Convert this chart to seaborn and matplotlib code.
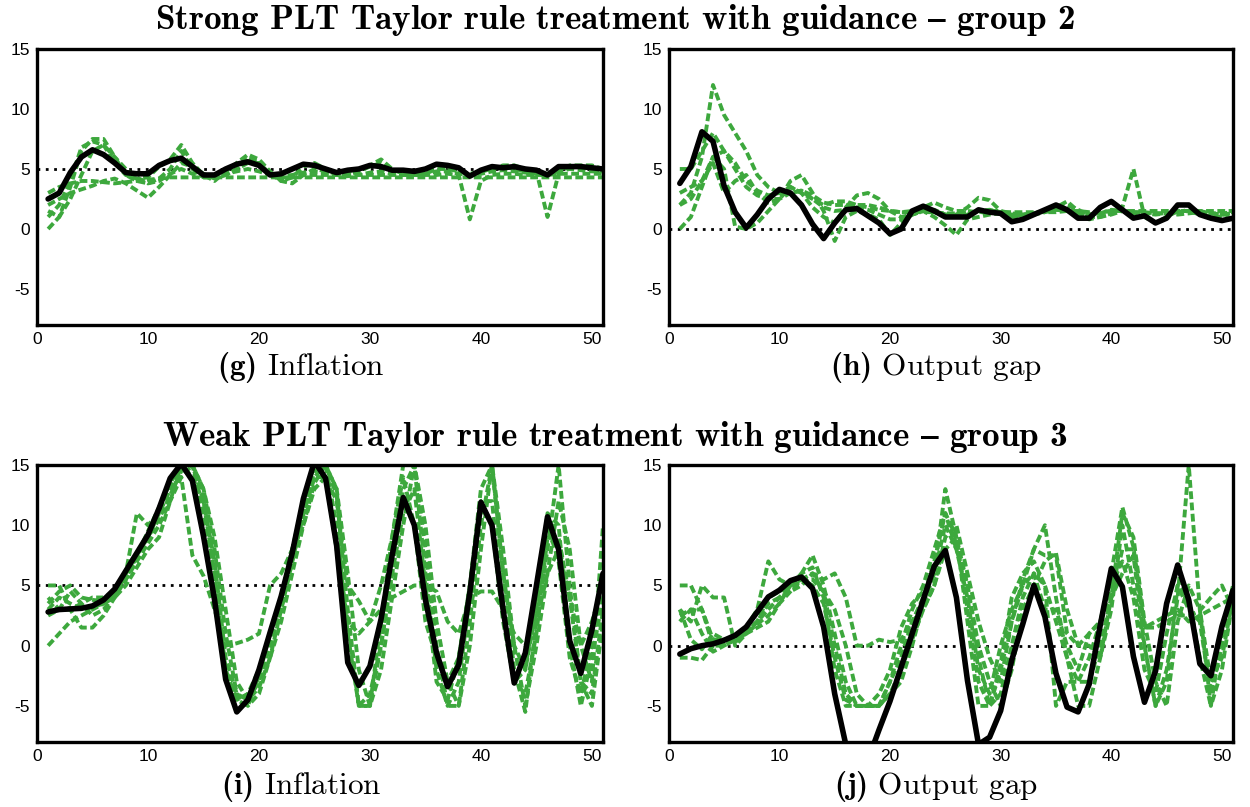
import numpy as np
import matplotlib
matplotlib.use('Agg')
import matplotlib.pyplot as plt
import seaborn as sns

sns.set_theme(style='white')
plt.rcParams['font.family'] = ['Liberation Sans', 'DejaVu Sans']
plt.rcParams['mathtext.fontset'] = 'custom'
plt.rcParams['mathtext.rm'] = 'cmr10'
plt.rcParams['mathtext.bf'] = 'cmb10'
plt.rcParams['axes.unicode_minus'] = False
plt.rcParams['text.color'] = 'black'
plt.rcParams['xtick.color'] = 'black'
plt.rcParams['ytick.color'] = 'black'

GREEN = '#3da83d'
periods = np.arange(1, 52)

# ===== Strong PLT, group 2: inflation (g) =====
g_mean = [2.5, 3.0, 4.7, 6.0, 6.6, 6.2, 5.5, 4.7, 4.6, 4.6,
          5.3, 5.7, 5.9, 5.2, 4.5, 4.5, 5.0, 5.4, 5.6, 5.3,
          4.5, 4.6, 5.0, 5.4, 5.3, 5.0, 4.7, 4.9, 5.0, 5.3,
          5.2, 4.9, 4.9, 4.8, 5.0, 5.4, 5.3, 5.1, 4.4, 4.9,
          5.2, 5.1, 5.2, 5.0, 4.9, 4.5, 5.2, 5.2, 5.2, 5.1,
          5.0]
g_f1 = [0.0, 1.0, 3.5, 6.5, 7.5, 7.5, 6.0, 4.5, 4.0, 3.8,
        4.2, 5.0, 6.5, 5.0, 4.3, 4.3, 4.5, 5.0, 6.0, 5.5,
        4.5, 4.2, 4.3, 4.5, 4.5, 4.5, 4.5, 4.5, 4.5, 4.5,
        4.5, 4.5, 4.5, 4.5, 4.5, 4.5, 4.6, 4.5, 0.8, 4.0,
        4.5, 4.6, 4.6, 4.5, 4.5, 4.5, 4.6, 4.6, 4.6, 4.6,
        4.6]
g_f2 = [1.0, 2.0, 4.0, 6.8, 7.3, 7.0, 5.5, 4.5, 4.2, 4.3,
        5.2, 5.8, 7.0, 5.5, 4.5, 4.0, 4.8, 5.5, 6.2, 5.8,
        4.8, 4.0, 4.3, 5.2, 5.5, 5.0, 4.5, 4.8, 5.0, 5.3,
        5.8, 5.0, 4.6, 4.5, 4.8, 5.3, 5.2, 4.9, 4.5, 4.8,
        5.0, 5.3, 5.3, 5.0, 4.8, 1.0, 4.6, 5.3, 5.3, 5.3,
        5.0]
g_f3 = [3.0, 3.5, 3.8, 4.0, 4.0, 3.9, 3.8, 3.9, 4.0, 4.1,
        4.2, 4.3, 4.3, 4.3, 4.3, 4.3, 4.3, 4.3, 4.3, 4.3,
        4.3, 4.3, 4.3, 4.3, 4.3, 4.3, 4.3, 4.3, 4.3, 4.3,
        4.3, 4.3, 4.3, 4.3, 4.3, 4.3, 4.3, 4.3, 4.3, 4.3,
        4.3, 4.3, 4.3, 4.3, 4.3, 4.3, 4.3, 4.3, 4.3, 4.3,
        4.3]
g_f4 = [2.0, 2.5, 3.0, 3.3, 3.6, 4.0, 4.2, 3.8, 3.2, 2.6,
        3.5, 4.5, 5.5, 5.2, 4.6, 4.2, 4.5, 5.0, 5.5, 5.5,
        4.6, 4.0, 3.8, 4.5, 5.0, 4.8, 4.6, 4.5, 4.8, 5.2,
        5.5, 5.0, 4.6, 4.5, 4.6, 5.0, 5.0, 4.8, 4.6, 4.8,
        5.0, 5.2, 5.0, 4.8, 4.7, 4.6, 5.0, 5.2, 5.2, 5.0,
        4.8]
g_f5 = [1.5, 1.0, 2.5, 4.5, 6.5, 7.0, 6.0, 5.0, 4.3, 3.8,
        4.0, 4.6, 5.0, 4.6, 4.4, 4.4, 4.6, 4.8, 5.0, 4.8,
        4.5, 4.4, 4.5, 4.7, 4.8, 4.7, 4.5, 4.4, 4.5, 4.7,
        4.8, 4.6, 4.5, 4.5, 4.6, 4.8, 4.8, 4.6, 4.5, 4.6,
        4.8, 4.9, 4.8, 4.7, 4.6, 4.6, 4.8, 5.0, 4.9, 4.8,
        4.8]

# ===== Strong PLT, group 2: output gap (h) =====
h_mean = [3.8, 5.2, 8.1, 7.3, 3.6, 1.4, 0.1, 1.2, 2.5, 3.3,
          3.0, 2.0, 0.4, -0.8, 0.5, 1.6, 1.7, 1.1, 0.5, -0.4,
          0.0, 1.5, 1.9, 1.5, 1.0, 1.0, 1.0, 1.6, 1.4, 1.3,
          0.6, 0.8, 1.2, 1.6, 2.0, 1.6, 0.9, 0.9, 1.8, 2.3,
          1.6, 0.9, 1.1, 0.5, 0.9, 2.0, 2.0, 1.2, 0.9, 0.7,
          0.9]
h_f1 = [2.0, 3.0, 6.0, 12.0, 9.5, 8.0, 6.5, 4.5, 3.5, 3.0,
        3.0, 3.2, 2.8, 2.2, 2.0, 2.0, 2.0, 2.0, 1.8, 1.5,
        1.4, 1.4, 1.4, 1.4, 1.3, 1.3, 1.4, 1.4, 1.4, 1.4,
        1.4, 1.4, 1.4, 1.4, 1.4, 1.5, 1.5, 1.4, 1.4, 1.5,
        1.5, 1.5, 1.5, 1.5, 1.5, 1.5, 1.5, 1.5, 1.5, 1.5,
        1.5]
h_f2 = [5.0, 5.0, 6.5, 8.0, 6.5, 5.5, 4.0, 3.2, 2.8, 3.0,
        3.5, 3.0, 2.5, 2.0, 2.3, 2.3, 2.0, 1.8, 1.6, 1.5,
        1.4, 1.5, 1.8, 2.2, 1.8, 1.5, 1.5, 1.4, 1.5, 1.5,
        1.3, 1.2, 1.3, 1.5, 1.8, 2.0, 1.6, 1.2, 1.3, 1.6,
        1.5, 1.4, 1.4, 1.3, 1.3, 1.4, 1.6, 1.5, 1.3, 1.2,
        1.3]
h_f3 = [0.0, 1.0, 3.5, 6.0, 5.0, 0.2, 0.0, 0.5, 1.5, 2.5,
        3.5, 3.0, 1.8, 1.0, 0.5, 1.8, 2.8, 3.0, 2.5, 1.5,
        1.0, 1.2, 1.5, 1.4, 1.2, 1.2, 1.8, 2.6, 2.4, 1.5,
        1.0, 1.0, 1.2, 1.4, 1.6, 1.5, 1.2, 1.0, 1.0, 1.2,
        1.5, 1.4, 1.3, 1.3, 1.3, 1.2, 1.3, 1.4, 1.3, 1.2,
        1.2]
h_f4 = [3.0, 3.5, 4.0, 5.5, 3.0, 4.0, 4.5, 3.0, 2.2, 2.5,
        4.0, 4.5, 3.0, 1.5, -1.0, 1.0, 1.5, 1.2, 0.8, -0.5,
        0.5, 1.2, 1.5, 1.0, 0.3, -0.5, 0.8, 1.0, 1.2, 1.3,
        1.0, 1.2, 1.3, 1.5, 1.8, 2.3, 1.5, 0.8, 1.0, 1.3,
        1.8, 5.0, 1.0, 0.5, 1.0, 1.5, 1.5, 1.2, 1.0, 1.0,
        0.8]
h_f5 = [2.0, 2.5, 4.0, 6.0, 6.5, 5.0, 3.5, 2.8, 2.5, 2.5,
        3.0, 3.2, 2.5, 1.8, 1.5, 1.6, 1.8, 1.6, 1.2, 0.8,
        0.8, 1.2, 1.6, 1.6, 1.2, 1.0, 1.2, 1.5, 1.6, 1.4,
        1.2, 1.2, 1.3, 1.5, 1.6, 1.6, 1.3, 1.2, 1.3, 1.5,
        1.5, 1.3, 1.3, 1.2, 1.3, 1.4, 1.5, 1.4, 1.3, 1.3,
        1.4]

# ===== Weak PLT, group 3: inflation (i) =====
i_mean = [2.8, 3.0, 3.05, 3.1, 3.3, 3.8, 4.7, 6.2, 7.7, 9.2,
          11.4, 13.9, 15.1, 13.7, 9.1, 3.8, -2.8, -5.5, -4.5, -2.0,
          1.1, 4.1, 7.7, 12.2, 15.3, 13.9, 8.3, -1.4, -3.3, -1.7,
          2.2, 7.5, 12.3, 10.0, 3.8, -0.6, -3.4, -1.6, 4.4, 11.9,
          10.0, 3.0, -3.1, -0.6, 5.0, 10.7, 8.0, 0.4, -2.3, 1.3,
          6.0]
i_f1 = [0.0, 1.0, 2.0, 2.5, 3.0, 3.5, 4.5, 6.0, 7.5, 9.0,
        11.0, 13.0, 15.0, 15.0, 12.0, 6.0, -2.0, -4.5, -5.0, -2.5,
        1.0, 4.0, 8.0, 12.0, 15.0, 15.0, 10.0, 1.0, -5.0, -5.0,
        0.0, 6.0, 13.0, 15.0, 8.0, 0.0, -5.0, -5.0, 2.0, 10.0,
        15.0, 6.0, -2.0, -5.5, 2.0, 8.0, 15.0, 5.0, -3.0, -5.0,
        2.0]
i_f2 = [5.0, 5.0, 3.0, 1.5, 1.5, 2.5, 4.0, 5.5, 7.5, 9.0,
        10.5, 12.5, 14.5, 15.0, 13.0, 8.0, 1.0, -4.0, -5.0, -4.0,
        -1.0, 3.0, 7.0, 11.0, 14.0, 15.0, 12.5, 3.0, -5.0, -5.0,
        2.0, 9.0, 15.0, 15.0, 6.0, -2.0, -5.0, -3.0, 4.0, 12.0,
        12.0, 3.0, -3.0, -2.0, 4.0, 11.0, 10.0, 0.0, -5.0, -1.0,
        4.0]
i_f3 = [3.5, 4.5, 5.0, 4.0, 3.8, 3.7, 4.0, 6.0, 11.0, 10.0,
        11.0, 13.0, 14.0, 7.5, 5.8, 3.0, 0.0, 0.2, 0.5, 1.0,
        5.0, 6.0, 8.0, 10.0, 13.0, 14.0, 8.0, 2.0, 1.0, 2.0,
        5.0, 9.0, 14.0, 10.0, 2.0, -1.0, -3.0, -1.0, 5.0, 13.0,
        15.0, 6.0, 0.0, -2.0, 3.0, 10.0, 7.0, -1.0, -4.0, 0.0,
        6.0]
i_f4 = [3.0, 4.0, 3.5, 3.0, 3.2, 3.5, 4.0, 5.0, 6.5, 8.0,
        9.0, 12.0, 15.0, 15.0, 11.0, 5.0, -2.0, -4.5, -4.0, -2.0,
        1.0, 4.0, 8.0, 11.0, 14.0, 14.0, 12.0, 5.0, 3.7, 2.0,
        3.0, 4.0, 4.5, 5.0, 5.0, 4.5, 2.0, 1.0, 4.0, 4.5,
        4.5, 3.0, 1.0, 0.0, 2.0, 6.0, 8.0, 4.0, 0.0, 2.0,
        5.0]
i_f5 = [2.5, 3.0, 4.5, 3.5, 2.5, 3.0, 4.2, 5.5, 7.5, 9.5,
        11.5, 13.5, 15.0, 14.0, 12.0, 7.0, -1.0, -4.0, -4.5, -3.0,
        0.0, 3.0, 7.0, 11.0, 14.5, 15.0, 13.0, 2.0, -5.0, -4.0,
        0.0, 6.0, 11.0, 13.0, 5.0, -3.0, -4.5, -1.0, 5.0, 12.0,
        10.0, 2.0, -3.0, -4.0, 1.0, 9.0, 9.0, 4.0, -3.0, -4.0,
        3.0]
i_f6 = [4.0, 3.0, 3.0, 3.5, 4.0, 4.0, 4.5, 5.5, 7.0, 8.5,
        10.0, 12.0, 14.0, 15.0, 13.0, 9.0, 3.0, -3.0, -4.5, -3.5,
        -1.0, 2.0, 6.0, 10.0, 13.5, 15.0, 13.0, 6.0, -2.0, -5.0,
        -2.0, 4.0, 10.0, 15.0, 10.0, 2.0, -3.0, -5.0, 0.0, 8.0,
        15.0, 8.0, 0.0, -5.0, 0.0, 6.0, 12.0, 8.0, 0.0, -3.0,
        10.0]

# ===== Weak PLT, group 3: output gap (j) =====
j_mean = [-0.7, -0.25, 0.0, 0.15, 0.45, 0.85, 1.55, 2.8, 4.05, 4.6,
          5.4, 5.7, 4.75, 1.55, -4.0, -8.2, -11.0, -9.5, -7.0, -4.6,
          -1.8, 1.0, 3.8, 6.6, 7.9, 4.0, -2.9, -8.2, -7.6, -5.4,
          -1.2, 1.8, 5.0, 2.4, -2.3, -5.1, -5.5, -3.2, 1.7, 6.4,
          4.9, -0.9, -4.7, -2.1, 3.5, 6.7, 3.8, -1.5, -2.5, 1.6,
          4.6]
j_f1 = [5.0, 5.0, 3.0, 0.5, 0.5, 0.8, 1.2, 2.0, 3.0, 4.0,
        5.0, 6.0, 6.5, 4.0, -2.0, -5.0, -5.0, -5.0, -5.0, -3.0,
        0.0, 3.0, 5.0, 8.0, 11.0, 9.0, 3.0, -3.0, -5.0, -2.0,
        2.0, 5.0, 8.0, 10.0, 4.0, -1.0, -3.0, -1.0, 2.0, 6.0,
        11.5, 8.2, 1.5, 1.5, 2.0, 2.5, 2.5, 2.9, 4.0, 5.0,
        3.0]
j_f2 = [3.0, 2.0, 5.0, 4.0, 4.0, 0.0, 1.0, 1.5, 2.0, 3.5,
        4.5, 5.5, 6.0, 5.5, 6.0, 4.0, 0.0, 0.0, 0.5, 0.3,
        0.5, 2.0, 3.0, 5.0, 8.0, 9.0, 5.0, 0.0, -3.0, -5.0,
        -2.0, 3.0, 5.0, 7.0, 7.7, 3.0, 0.0, 0.0, -1.0, 4.0,
        6.0, 7.5, 0.0, -5.0, -2.0, 4.0, 15.0, 3.0, -3.0, -1.0,
        4.0]
j_f3 = [-1.0, -1.0, -1.2, 0.0, 0.3, 0.5, 1.0, 1.8, 2.5, 3.5,
        5.0, 6.0, 7.5, 5.0, 1.0, -3.0, -5.0, -5.0, -5.0, -4.0,
        -3.0, 0.0, 3.5, 6.0, 13.0, 9.0, 2.0, -5.0, -5.0, -1.5,
        4.0, 6.0, 7.0, 5.0, -5.0, -3.0, -3.0, -3.0, 0.0, 4.0,
        11.0, 9.0, 2.0, -3.0, -5.0, 2.0, 5.0, 3.0, -5.0, -2.0,
        4.0]
j_f4 = [2.5, 3.0, 1.0, -0.5, 0.0, 0.5, 1.5, 3.0, 7.0, 5.5,
        5.0, 5.5, 5.0, 3.5, -1.0, -4.5, -5.0, -5.0, -4.0, -2.0,
        1.5, 3.5, 4.5, 6.0, 10.0, 8.0, 4.0, -2.0, -4.0, 0.0,
        3.0, 5.0, 6.0, 3.0, 3.0, 0.0, -2.0, 1.0, 2.0, 5.0,
        7.0, 4.0, -2.0, -4.0, 1.0, 5.0, 4.0, -1.0, -5.0, 1.0,
        5.0]
j_f5 = [2.0, 3.0, 3.0, 0.0, 0.0, 0.5, 1.2, 2.0, 4.0, 4.5,
        5.0, 5.5, 5.5, 4.5, 0.0, -4.0, -5.0, -5.0, -5.0, -3.0,
        -1.0, 2.0, 4.0, 7.0, 11.0, 8.0, 5.0, -1.0, -5.0, -4.0,
        0.0, 4.0, 6.0, 5.0, 2.0, -1.0, -5.0, -5.0, -1.0, 3.0,
        10.0, 5.0, 0.0, -5.0, -3.0, 5.0, 3.0, 2.0, -4.0, 0.0,
        4.5]
j_f6 = [3.0, 0.5, -0.3, 1.0, 0.5, 0.3, 1.0, 2.0, 3.5, 4.0,
        4.5, 5.0, 6.0, 4.5, 3.0, 0.0, -4.0, -5.0, -5.0, -4.0,
        -2.0, 0.5, 3.0, 5.0, 9.0, 10.0, 6.0, 2.0, -1.0, -3.0,
        2.0, 5.5, 8.0, 7.5, 7.5, 1.0, 0.0, 1.0, 2.0, 4.0,
        8.0, 8.0, 1.5, 2.0, 2.5, 3.0, 2.0, 2.5, 3.0, 3.5,
        4.0]


def draw_panel(ax, mean, forecasts, target):
    """Одна панель: прогнозы (зелёный пунктир), среднее (чёрная) и цель"""
    ax.axhline(target, color='black', lw=2.0, ls=(0, (1, 2.0)), zorder=1)
    for f in forecasts:
        sns.lineplot(x=periods[:len(f)], y=f, ax=ax, color=GREEN, lw=2.8,
                     linestyle=(0, (2.0, 0.9)), zorder=2)
    sns.lineplot(x=periods[:len(mean)], y=mean, ax=ax, color='black', lw=4.0, zorder=3)
    ax.set_xlim(0, 51)
    ax.set_ylim(-8, 15)
    ax.set_xticks([0, 10, 20, 30, 40, 50])
    ax.set_yticks([-5, 0, 5, 10, 15])
    ax.tick_params(length=0, labelsize=12.5, pad=5, colors='black')
    for s in ax.spines.values():
        s.set_linewidth(2.4)
        s.set_color('black')
    ax.set_xlabel('')
    ax.set_ylabel('')


fig = plt.figure(figsize=(12.5, 8.07), dpi=100)
ax_g = fig.add_axes([0.0296, 0.5973, 0.4528, 0.342])
ax_h = fig.add_axes([0.535, 0.5973, 0.4514, 0.342])
ax_i = fig.add_axes([0.0296, 0.0805, 0.4528, 0.3433])
ax_j = fig.add_axes([0.535, 0.0805, 0.4514, 0.3433])

draw_panel(ax_g, g_mean, [g_f1, g_f2, g_f3, g_f4, g_f5], 5)
draw_panel(ax_h, h_mean, [h_f1, h_f2, h_f3, h_f4, h_f5], 0)
draw_panel(ax_i, i_mean, [i_f1, i_f2, i_f3, i_f4, i_f5, i_f6], 5)
draw_panel(ax_j, j_mean, [j_f1, j_f2, j_f3, j_f4, j_f5, j_f6], 0)

fig.text(0.492, 0.975, r'$\mathbf{Strong\ PLT\ Taylor\ rule\ treatment\ with\ guidance\ –\ group\ 2}$',
         ha='center', va='center', fontsize=25.3, color='black')
fig.text(0.492, 0.4585, r'$\mathbf{Weak\ PLT\ Taylor\ rule\ treatment\ with\ guidance\ –\ group\ 3}$',
         ha='center', va='center', fontsize=25.3, color='black')

fig.text(0.241, 0.544, r'$\mathbf{(g)}\ \mathrm{Inflation}$', ha='center', va='center', fontsize=22.5, color='black')
fig.text(0.749, 0.544, r'$\mathbf{(h)}\ \mathrm{Output\ gap}$', ha='center', va='center', fontsize=22.5, color='black')
fig.text(0.241, 0.0248, r'$\mathbf{(i)}\ \mathrm{Inflation}$', ha='center', va='center', fontsize=22.5, color='black')
fig.text(0.749, 0.0248, r'$\mathbf{(j)}\ \mathrm{Output\ gap}$', ha='center', va='center', fontsize=22.5, color='black')

fig.savefig('out.png', dpi=100)
plt.close(fig)
